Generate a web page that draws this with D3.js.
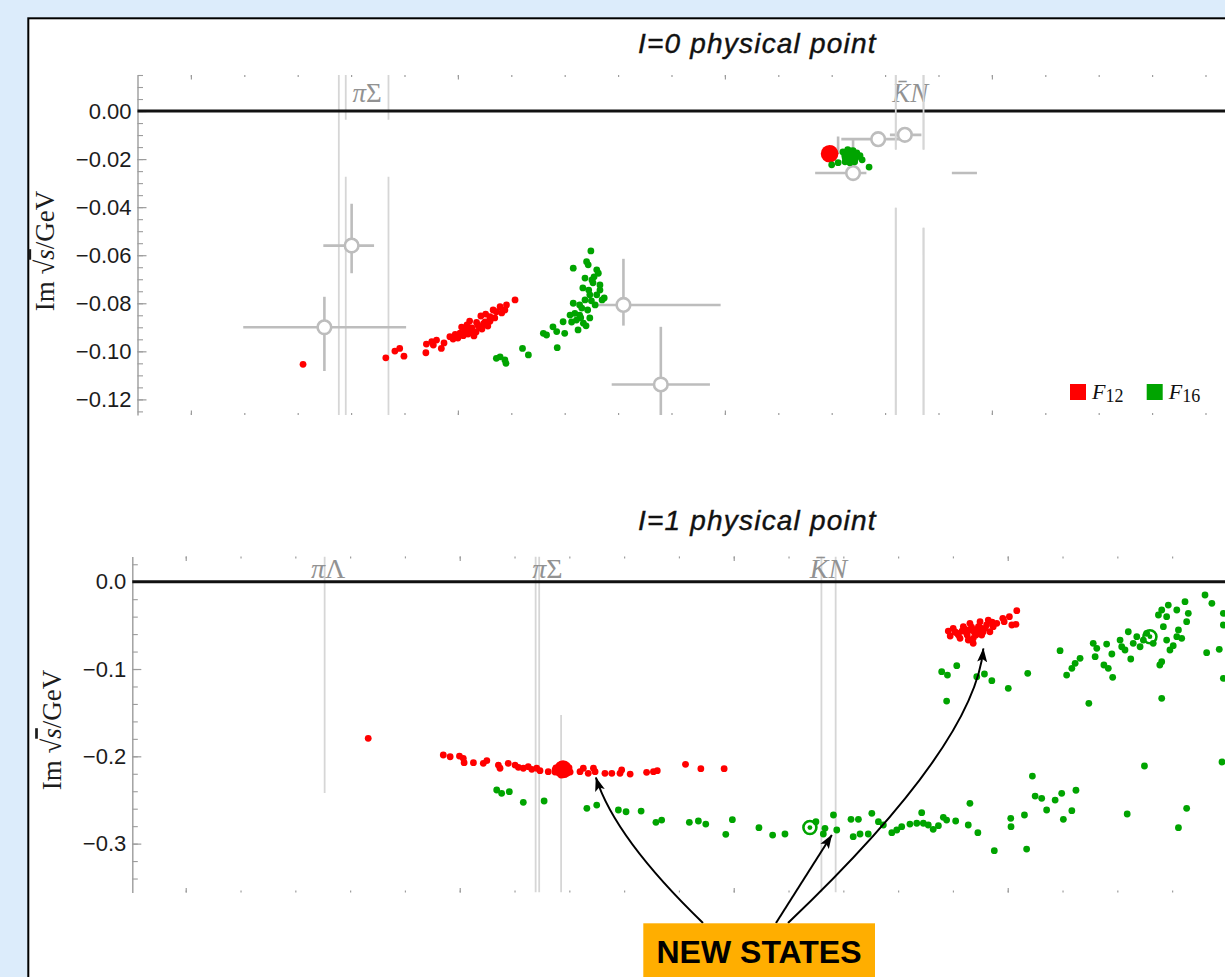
<!DOCTYPE html>
<html>
<head>
<meta charset="utf-8">
<title>Pole positions, I=0 and I=1</title>
<script src="https://cdn.jsdelivr.net/npm/d3@7/dist/d3.min.js"></script>
<style>
  html, body { margin: 0; padding: 0; background: #dcecfb; overflow: hidden; }
  svg { display: block; }
</style>
</head>
<body>
<svg id="chart" width="1225" height="977"></svg>
<script>
// ---------------- data (Re √s, Im √s in GeV) ----------------
const seriesNames = [{ base: "F", sub: "12" }, { base: "F", sub: "16" }];
const panelTitles = ["I=0 physical point", "I=1 physical point"];

// I=0 poles, F12 fit samples
const f12I0 = [
  [1.3210,-0.1054],[1.3365,-0.1027],[1.3382,-0.0999],[1.3391,-0.0988],[1.3399,-0.1020],
  [1.3440,-0.1006],[1.3441,-0.0970],[1.3451,-0.0960],[1.3460,-0.0953],[1.3469,-0.0988],
  [1.3454,-0.0974],[1.3474,-0.0965],[1.3485,-0.0939],[1.3491,-0.0949],[1.3500,-0.0945],
  [1.3504,-0.0924],[1.3507,-0.0899],[1.3513,-0.0911],[1.3517,-0.0890],[1.3519,-0.0928],
  [1.3522,-0.0874],[1.3526,-0.0903],[1.3530,-0.0936],[1.3534,-0.0920],[1.3537,-0.0890],
  [1.3543,-0.0853],[1.3545,-0.0907],[1.3551,-0.0878],[1.3552,-0.0845],[1.3556,-0.0895],
  [1.3560,-0.0865],[1.3560,-0.0856],[1.3566,-0.0828],[1.3569,-0.0861],[1.3572,-0.0835],
  [1.3579,-0.0814],[1.3582,-0.0840],[1.3588,-0.0828],[1.3591,-0.0807],[1.3607,-0.0786],
  [1.3510,-0.0935],[1.3528,-0.0915],[1.3540,-0.0900],[1.3515,-0.0905],[1.3548,-0.0885],
  [1.3495,-0.0930],[1.3535,-0.0880],[1.3560,-0.0875],[1.3520,-0.0911],[1.3524,-0.0920],
  [1.4194,-0.0160],[1.4200,-0.0158],[1.4204,-0.0168],[1.4191,-0.0172],[1.4196,-0.0180],
  [1.4203,-0.0185],[1.4192,-0.0192],[1.4198,-0.0196],[1.4206,-0.0176],[1.4188,-0.0182],
  [1.4197,-0.0170]
];
// I=0 F12 central poles
const f12I0Central = [[1.3522,-0.0911],[1.4196,-0.0178]];
// I=0 poles, F16 fit samples
const f16I0 = [
  [1.3572,-0.1029],[1.3579,-0.1023],[1.3588,-0.1036],[1.3590,-0.1050],[1.3621,-0.0988],
  [1.3632,-0.1015],[1.3660,-0.0925],[1.3666,-0.0932],[1.3678,-0.0898],[1.3685,-0.0918],
  [1.3686,-0.0985],[1.3697,-0.0877],[1.3700,-0.0925],[1.3710,-0.0849],[1.3713,-0.0878],
  [1.3716,-0.0800],[1.3716,-0.0654],[1.3719,-0.0842],[1.3722,-0.0870],[1.3725,-0.0911],
  [1.3728,-0.0849],[1.3728,-0.0807],[1.3734,-0.0736],[1.3735,-0.0883],[1.3738,-0.0695],
  [1.3738,-0.0786],[1.3740,-0.0894],[1.3741,-0.0627],[1.3743,-0.0828],[1.3744,-0.0640],
  [1.3747,-0.0765],[1.3747,-0.0861],[1.3749,-0.0582],[1.3751,-0.0703],[1.3753,-0.0715],
  [1.3757,-0.0807],[1.3760,-0.0661],[1.3760,-0.0765],[1.3763,-0.0675],[1.3766,-0.0745],
  [1.3766,-0.0724],[1.3770,-0.0786],[1.3774,-0.0778],[1.3732,-0.0820],[1.3750,-0.0790],
  [1.3745,-0.0745],[1.3755,-0.0690],[1.3730,-0.0860],
  [1.4221,-0.0170],[1.4230,-0.0161],[1.4240,-0.0165],[1.4247,-0.0174],[1.4227,-0.0190],
  [1.4236,-0.0195],[1.4245,-0.0195],[1.4253,-0.0186],[1.4257,-0.0203],[1.4225,-0.0211],
  [1.4234,-0.0215],[1.4243,-0.0211],[1.4270,-0.0233],[1.4200,-0.0224],[1.4212,-0.0215]
];
// I=0 F16 central pole
const f16I0Central = [[1.4234,-0.0187]];
// I=0 other determinations: [Re, Im, ReMin, ReMax, ImMin, ImMax, showMarker]
const refsI0 = [
  [1.3301,-0.0560, 1.3248,1.3343, -0.0675,-0.0386, 1],
  [1.3250,-0.0900, 1.3098,1.3403, -0.1082,-0.0773, 1],
  [1.3810,-0.0807, 1.3760,1.3992, -0.0893,-0.0615, 1],
  [1.3880,-0.1138, 1.3788,1.3972, -0.1400,-0.0898, 1],
  [1.4287,-0.0117, 1.4218,1.4337, -0.0117,-0.0117, 1],
  [1.4337,-0.0099, 1.4309,1.4368, -0.0099,-0.0099, 1],
  [1.4240,-0.0258, 1.4169,1.4472, -0.0258,-0.0120, 1],
  [1.4212,-0.0179, 1.4212,1.4212, -0.0179,-0.0106, 0]
];
// I=1 poles, F12 fit samples
const f12I1 = [
  [1.2666,-0.1794],[1.2940,-0.1985],[1.2965,-0.2005],[1.2999,-0.1997],[1.3013,-0.2023],
  [1.3016,-0.2073],[1.3050,-0.2073],[1.3086,-0.2080],[1.3099,-0.2050],[1.3141,-0.2100],
  [1.3147,-0.2137],[1.3177,-0.2080],[1.3202,-0.2100],[1.3214,-0.2126],[1.3232,-0.2137],
  [1.3250,-0.2119],[1.3263,-0.2149],[1.3281,-0.2137],[1.3293,-0.2165],[1.3323,-0.2176],
  [1.3348,-0.2157],[1.3351,-0.2134],[1.3366,-0.2100],[1.3384,-0.2111],[1.3399,-0.2134],
  [1.3359,-0.2180],[1.3377,-0.2157],[1.3392,-0.2191],[1.3370,-0.2214],[1.3403,-0.2180],
  [1.3348,-0.2180],[1.3380,-0.2140],[1.3388,-0.2165],[1.3396,-0.2176],[1.3439,-0.2176],
  [1.3451,-0.2137],[1.3469,-0.2195],[1.3488,-0.2137],[1.3494,-0.2176],[1.3530,-0.2195],
  [1.3555,-0.2195],[1.3585,-0.2195],[1.3591,-0.2157],[1.3622,-0.2203],[1.3682,-0.2183],
  [1.3707,-0.2176],[1.3721,-0.2165],[1.3824,-0.2092],[1.3880,-0.2142],[1.3965,-0.2142],
  [1.4783,-0.0565],[1.4801,-0.0534],[1.4820,-0.0611],[1.4838,-0.0515],[1.4850,-0.0591],
  [1.4862,-0.0477],[1.4874,-0.0648],[1.4881,-0.0553],[1.4899,-0.0458],[1.4905,-0.0611],
  [1.4917,-0.0534],[1.4929,-0.0439],[1.4935,-0.0573],[1.4947,-0.0515],[1.4960,-0.0477],
  [1.4982,-0.0419],[1.4987,-0.0458],[1.5006,-0.0401],[1.5015,-0.0496],[1.5030,-0.0488],
  [1.5033,-0.0332],[1.4874,-0.0706],[1.4856,-0.0668],[1.4826,-0.0648],[1.4893,-0.0515],
  [1.4923,-0.0496],[1.4808,-0.0576],[1.4862,-0.0553],[1.4910,-0.0576],[1.4943,-0.0462],
  [1.4833,-0.0565],[1.4884,-0.0611],[1.4790,-0.0622],[1.4868,-0.0520],[1.4895,-0.0560],
  [1.4845,-0.0545],[1.4815,-0.0590],[1.4852,-0.0610],[1.4878,-0.0580],[1.4900,-0.0530]
];
// I=1 F12 central pole
const f12I1Central = [[1.3377,-0.2149]];
// I=1 poles, F16 fit samples
const f16I1 = [
  [1.3135,-0.2386],[1.3153,-0.2424],[1.3181,-0.2405],[1.3232,-0.2527],[1.3308,-0.2512],
  [1.3464,-0.2596],[1.3500,-0.2558],[1.3579,-0.2615],[1.3607,-0.2635],[1.3662,-0.2627],
  [1.3716,-0.2756],[1.3737,-0.2730],[1.3838,-0.2756],[1.3871,-0.2741],[1.3898,-0.2776],
  [1.3995,-0.2726],[1.3971,-0.2894],[1.4092,-0.2818],[1.4142,-0.2902],[1.4187,-0.2890],
  [1.4300,-0.2749],[1.4327,-0.2890],[1.4333,-0.2825],[1.4364,-0.2672],[1.4376,-0.2844],
  [1.4428,-0.2722],[1.4455,-0.2722],[1.4436,-0.2921],[1.4461,-0.2890],[1.4491,-0.2890],
  [1.4504,-0.2653],[1.4528,-0.2749],[1.4546,-0.2787],[1.4577,-0.2875],[1.4595,-0.2844],
  [1.4613,-0.2806],[1.4643,-0.2776],[1.4668,-0.2767],[1.4686,-0.2646],[1.4692,-0.2767],
  [1.4710,-0.2787],[1.4728,-0.2836],[1.4747,-0.2795],[1.4765,-0.2699],[1.4777,-0.2730],
  [1.4810,-0.2741],[1.4856,-0.2787],[1.4862,-0.2538],[1.4891,-0.2875],[1.4951,-0.3081],
  [1.5011,-0.2710],[1.5012,-0.2806],[1.5061,-0.2672],[1.5069,-0.3062],[1.5090,-0.2226],
  [1.5100,-0.2455],[1.5124,-0.2481],[1.5142,-0.2615],[1.5173,-0.2501],[1.5197,-0.2424],
  [1.5203,-0.2722],[1.5234,-0.2623],[1.5249,-0.2389],[1.5436,-0.2661],[1.5499,-0.2111],
  [1.5623,-0.2818],[1.5653,-0.2596],[1.5782,-0.2065],
  [1.4759,-0.1031],[1.4780,-0.1069],[1.4814,-0.0962],[1.4777,-0.1367],[1.4887,-0.1088],
  [1.4915,-0.1057],[1.4942,-0.1134],[1.5002,-0.1221],[1.5073,-0.1049],[1.5191,-0.0790],
  [1.5215,-0.1069],[1.5234,-0.0992],[1.5246,-0.0935],[1.5264,-0.0877],[1.5296,-0.1393],
  [1.5312,-0.0706],[1.5319,-0.0859],[1.5325,-0.0763],[1.5351,-0.0954],[1.5361,-0.0714],
  [1.5380,-0.0828],[1.5383,-0.1095],[1.5367,-0.0992],[1.5410,-0.0668],[1.5416,-0.0745],
  [1.5428,-0.0782],[1.5440,-0.0573],[1.5449,-0.0885],[1.5458,-0.0706],[1.5471,-0.0630],
  [1.5483,-0.0745],[1.5495,-0.0668],[1.5507,-0.0591],[1.5531,-0.0706],[1.5550,-0.0381],
  [1.5562,-0.0324],[1.5555,-0.0954],[1.5562,-0.0916],[1.5568,-0.0515],[1.5580,-0.0401],
  [1.5586,-0.0267],[1.5580,-0.0668],[1.5592,-0.0782],[1.5604,-0.0733],[1.5617,-0.0324],
  [1.5617,-0.0630],[1.5623,-0.0553],[1.5635,-0.0648],[1.5647,-0.0229],[1.5659,-0.0362],
  [1.5653,-0.0458],[1.5562,-0.1336],[1.5720,-0.0152],[1.5745,-0.0247],[1.5726,-0.0813],
  [1.5772,-0.0774],[1.5787,-0.0362],[1.5787,-0.0496],[1.5787,-0.1107]
];
// I=1 F16 central poles (ringed)
const f16I1Central = [[1.4278,-0.2816],[1.5519,-0.0630]];

// two-body thresholds: Re √s and the stretches of the guide line that are drawn
const thresholdsI0 = [
  { x: 1.3277, segs: [[0.015,-0.1265]] },
  { x: 1.3290, segs: [[0.015,-0.0036],[-0.0273,-0.1265]] },
  { x: 1.3370, segs: [[0.015,-0.0036],[-0.0273,-0.1265]] },
  { x: 1.4320, segs: [[0.015,-0.0161],[-0.0402,-0.1265]] },
  { x: 1.4372, segs: [[0.015,-0.0161],[-0.0486,-0.1265]] }
];
const thresholdsI1 = [
  { x: 1.2507, segs: [[0.029,-0.2420]] },
  { x: 1.3277, segs: [[0.029,-0.356]] },
  { x: 1.3290, segs: [[0.029,-0.356]] },
  { x: 1.3370, segs: [[-0.1527,-0.356]] },
  { x: 1.4320, segs: [[0.029,-0.356]] },
  { x: 1.4372, segs: [[0.029,-0.356]] }
];
const piSigma = [{ t: "π", it: true }, { t: "Σ" }];
const piLambda = [{ t: "π", it: true }, { t: "Λ" }];
const kbarN = [{ t: "K\u0304", it: true }, { t: "N", it: true }];
const thrLabelsI0 = [{ x: 1.3330, parts: piSigma }, { x: 1.4347, parts: kbarN }];
const thrLabelsI1 = [{ x: 1.2520, parts: piLambda }, { x: 1.3320, parts: piSigma }, { x: 1.4346, parts: kbarN }];

// tick values
const yMajorI0 = [0, -0.02, -0.04, -0.06, -0.08, -0.10, -0.12];
const yMinorI0 = d3.range(3, -26, -1).map(i => i * 0.005);
const xMajorI0 = [1.30, 1.35, 1.40, 1.45, 1.50];
const xMinorI0 = d3.range(129, 153).map(i => i / 100);
const yMajorI1 = [0, -0.1, -0.2, -0.3];
const yMinorI1 = d3.range(1, -18, -1).map(i => i * 0.02);
const xMajorI1 = [1.2, 1.3, 1.4, 1.5, 1.6];
const xMinorI1 = d3.range(59, 81).map(i => i * 0.02);

// poles pointed out by the annotation (I=1 panel)
const newStates = [[1.3497,-0.2243],[1.4358,-0.2901],[1.4911,-0.0765]];

// ---------------- drawing ----------------
const COL = {
  f12: "#ff0000", f16: "#00a400", ref: "#bdbdbd", thr: "#d6d6d6",
  axis: "#9c9c9c", text: "#1c1c1c", label: "#929292"
};
const svg = d3.select("#chart");
const defs = svg.append("defs");

// white card
svg.append("rect").attr("x", 28.3).attr("y", 18.3).attr("width", 1300).attr("height", 1100)
  .attr("fill", "#fff").attr("stroke", "#000").attr("stroke-width", 2);

function drawPanel(p, idx) {
  const x = d3.scaleLinear()
    .domain([p.x0, p.x0 + (p.right - p.left) / p.pxPerGeV])
    .range([p.left, p.right]);
  const y = d3.scaleLinear().domain(p.yDom).range([p.top, p.bottom]);
  const g = svg.append("g");

  const clipId = "clip" + idx;
  defs.append("clipPath").attr("id", clipId).append("rect")
    .attr("x", p.left).attr("y", p.top).attr("width", p.right - p.left).attr("height", p.bottom - p.top);

  // threshold guide lines
  const thrG = g.append("g").attr("clip-path", `url(#${clipId})`);
  p.thresholds.forEach(t => t.segs.forEach(s => {
    thrG.append("line")
      .attr("x1", x(t.x)).attr("x2", x(t.x)).attr("y1", y(s[0])).attr("y2", y(s[1]))
      .attr("stroke", COL.thr).attr("stroke-width", 1.8);
  }));
  p.thrLabels.forEach(l => {
    const tx = g.append("text").attr("x", x(l.x)).attr("y", p.top + p.labelBase)
      .attr("text-anchor", "middle").attr("font-family", "Liberation Serif, serif")
      .attr("font-size", p.labelSize).attr("fill", COL.label);
    l.parts.forEach(pt => tx.append("tspan").attr("font-style", pt.it ? "italic" : "normal").text(pt.t));
  });

  // x ticks on top and bottom frame edges
  [[d3.axisTop, p.top], [d3.axisBottom, p.bottom]].forEach(([ax, yy]) => {
    const a1 = g.append("g").attr("transform", `translate(0,${yy})`)
      .call(ax(x).tickValues(p.xMinor.filter(v => x(v) > p.left + 1)).tickSize(-2).tickFormat(""));
    const a2 = g.append("g").attr("transform", `translate(0,${yy})`)
      .call(ax(x).tickValues(p.xMajor).tickSize(-4.5).tickFormat(""));
    [a1, a2].forEach(a => {
      a.select(".domain").remove();
      a.selectAll("line").attr("stroke", COL.axis).attr("stroke-width", 1.2);
    });
  });

  // y axis
  const yMin = g.append("g").attr("transform", `translate(${p.left},0)`)
    .call(d3.axisLeft(y).tickValues(p.yMinor).tickSize(-5.5).tickSizeOuter(0).tickFormat(""));
  yMin.select(".domain").attr("stroke", COL.axis).attr("stroke-width", 1.4);
  yMin.selectAll("line").attr("stroke", COL.axis).attr("stroke-width", 1.1);
  const yMaj = g.append("g").attr("transform", `translate(${p.left},0)`)
    .call(d3.axisLeft(y).tickValues(p.yMajor).tickSize(-9).tickSizeOuter(0).tickPadding(6).tickFormat(d3.format(p.yFmt)));
  yMaj.select(".domain").remove();
  yMaj.selectAll("line").attr("stroke", COL.axis).attr("stroke-width", 1.2);
  yMaj.selectAll("text").attr("font-family", "Liberation Sans, Arial, sans-serif")
    .attr("font-size", 22).attr("fill", COL.text);

  // zero line
  g.append("line").attr("x1", p.left).attr("x2", p.right).attr("y1", y(0)).attr("y2", y(0))
    .attr("stroke", "#111").attr("stroke-width", 3);

  // y axis title
  const yl = g.append("text")
    .attr("transform", `translate(${p.yLabel[0]},${p.yLabel[1]}) rotate(-90)`)
    .attr("dy", "0.35em").attr("text-anchor", "middle")
    .attr("font-family", "Liberation Serif, serif").attr("font-size", 27).attr("fill", COL.text);
  yl.append("tspan").text("Im \u221A");
  yl.append("tspan").attr("font-style", "italic").style("text-decoration", "overline").text("s");
  yl.append("tspan").text("/GeV");

  // panel title
  g.append("text").attr("x", p.titleX).attr("y", p.titleBase)
    .attr("font-family", "Liberation Sans, Arial, sans-serif").attr("font-style", "italic")
    .attr("font-size", 28).attr("letter-spacing", 1.2).attr("fill", "#111")
    .attr("stroke", "#111").attr("stroke-width", 0.4).text(p.title);

  const plot = g.append("g").attr("clip-path", `url(#${clipId})`);

  // other determinations with error bars
  (p.refs || []).forEach(r => {
    const [rx, ry, x1, x2, y1, y2] = r;
    if (x2 > x1) plot.append("line").attr("x1", x(x1)).attr("x2", x(x2)).attr("y1", y(ry)).attr("y2", y(ry))
      .attr("stroke", COL.ref).attr("stroke-width", 2.6);
    if (y2 > y1) plot.append("line").attr("x1", x(rx)).attr("x2", x(rx)).attr("y1", y(y1)).attr("y2", y(y2))
      .attr("stroke", COL.ref).attr("stroke-width", 2.6);
  });
  (p.refs || []).filter(r => r[6]).forEach(r => {
    plot.append("circle").attr("cx", x(r[0])).attr("cy", y(r[1])).attr("r", 6.8)
      .attr("fill", "#fff").attr("stroke", COL.ref).attr("stroke-width", 2.6);
  });
  if (p.mask) {
    plot.append("rect").attr("x", x(p.mask[0])).attr("y", y(p.mask[2]))
      .attr("width", x(p.mask[1]) - x(p.mask[0])).attr("height", y(p.mask[3]) - y(p.mask[2]))
      .attr("fill", "#fff");
    // the K̄N guide lines run over the cleared box
    p.thresholds.filter(t => x(t.x) > x(p.mask[0]) && x(t.x) < x(p.mask[1])).forEach(t => t.segs.forEach(s => {
      plot.append("line").attr("x1", x(t.x)).attr("x2", x(t.x)).attr("y1", y(s[0])).attr("y2", y(s[1]))
        .attr("stroke", COL.thr).attr("stroke-width", 1.8);
    }));
  }

  // pole samples
  plot.append("g").selectAll("circle").data(p.f12).join("circle")
    .attr("cx", d => x(d[0])).attr("cy", d => y(d[1])).attr("r", 3.4).attr("fill", COL.f12);
  plot.append("g").selectAll("circle").data(p.f12Central || []).join("circle")
    .attr("cx", d => x(d[0])).attr("cy", d => y(d[1])).attr("r", (d, i) => p.f12CentralR[i]).attr("fill", COL.f12);
  plot.append("g").selectAll("circle").data(p.f16).join("circle")
    .attr("cx", d => x(d[0])).attr("cy", d => y(d[1])).attr("r", 3.4).attr("fill", COL.f16);
  plot.append("g").selectAll("circle").data(p.f16CentralFilled || []).join("circle")
    .attr("cx", d => x(d[0])).attr("cy", d => y(d[1])).attr("r", 8.5).attr("fill", COL.f16);
  (p.f16CentralRing || []).forEach(d => {
    plot.append("circle").attr("cx", x(d[0])).attr("cy", y(d[1])).attr("r", 6.5)
      .attr("fill", "none").attr("stroke", COL.f16).attr("stroke-width", 2.6);
    plot.append("circle").attr("cx", x(d[0])).attr("cy", y(d[1])).attr("r", 2.4).attr("fill", COL.f16);
  });

  return { x, y };
}

const panelI0 = drawPanel({
  left: 137.5, right: 1300, top: 75, bottom: 415, pxPerGeV: 5340, x0: 1.29,
  yDom: [0.015, -0.1265], yMajor: yMajorI0, yMinor: yMinorI0, yFmt: ".2f",
  xMajor: xMajorI0, xMinor: xMinorI0,
  thresholds: thresholdsI0, thrLabels: thrLabelsI0, labelBase: 26.7, labelSize: 27,
  refs: refsI0, mask: [1.4265, 1.4425, -0.0160, -0.0400],
  f12: f12I0, f12Central: f12I0Central, f12CentralR: [5.5, 8.8],
  f16: f16I0, f16CentralFilled: f16I0Central,
  yLabel: [45, 251], title: panelTitles[0], titleX: 638, titleBase: 53.3
}, 0);

const panelI1 = drawPanel({
  left: 132.3, right: 1300, top: 556.4, bottom: 892.5, pxPerGeV: 2740, x0: 1.1805,
  yDom: [0.029, -0.356], yMajor: yMajorI1, yMinor: yMinorI1, yFmt: ".1f",
  xMajor: xMajorI1, xMinor: xMinorI1,
  thresholds: thresholdsI1, thrLabels: thrLabelsI1, labelBase: 22, labelSize: 28,
  f12: f12I1, f12Central: f12I1Central, f12CentralR: [9],
  f16: f16I1, f16CentralRing: f16I1Central,
  yLabel: [51.7, 730], title: panelTitles[1], titleX: 638, titleBase: 530
}, 1);

// legend (I=0 panel)
const legend = svg.append("g").attr("transform", "translate(1070,384)");
[COL.f12, COL.f16].forEach((c, i) => {
  const gi = legend.append("g").attr("transform", `translate(${i * 76.7},0)`);
  gi.append("rect").attr("width", 16).attr("height", 16).attr("fill", c);
  const t = gi.append("text").attr("x", 22).attr("y", 14.5)
    .attr("font-family", "Liberation Serif, serif").attr("fill", "#111");
  t.append("tspan").attr("font-style", "italic").attr("font-size", 22).text(seriesNames[i].base);
  t.append("tspan").attr("font-size", 18).attr("dy", 3.5).text(seriesNames[i].sub);
});

// "NEW STATES" callout with arrows to the I=1 poles
defs.append("marker").attr("id", "head").attr("viewBox", "0 0 14 10")
  .attr("refX", 13.5).attr("refY", 5).attr("markerWidth", 14).attr("markerHeight", 10)
  .attr("markerUnits", "userSpaceOnUse").attr("orient", "auto")
  .append("path").attr("d", "M0,0 L14,5 L0,10 L3,5 Z").attr("fill", "#000");

const starts = [[703, 923], [776, 923], [788, 923]];
const bends = [[615, 838], null, [975, 745]];
newStates.forEach((d, i) => {
  const tx = panelI1.x(d[0]), ty = panelI1.y(d[1]);
  const [sx, sy] = starts[i];
  const path = d3.path();
  path.moveTo(sx, sy);
  if (bends[i]) path.quadraticCurveTo(bends[i][0], bends[i][1], tx, ty);
  else path.lineTo(tx, ty);
  svg.append("path").attr("d", path.toString()).attr("fill", "none")
    .attr("stroke", "#000").attr("stroke-width", 2).attr("marker-end", "url(#head)");
});

svg.append("rect").attr("x", 643.3).attr("y", 923.3).attr("width", 231.7).attr("height", 70)
  .attr("fill", "#ffae00");
svg.append("text").attr("x", 759).attr("y", 963).attr("text-anchor", "middle")
  .attr("font-family", "Liberation Sans, Arial, sans-serif").attr("font-weight", "bold")
  .attr("font-size", 32).attr("fill", "#000").text("NEW STATES");
</script>
</body>
</html>
